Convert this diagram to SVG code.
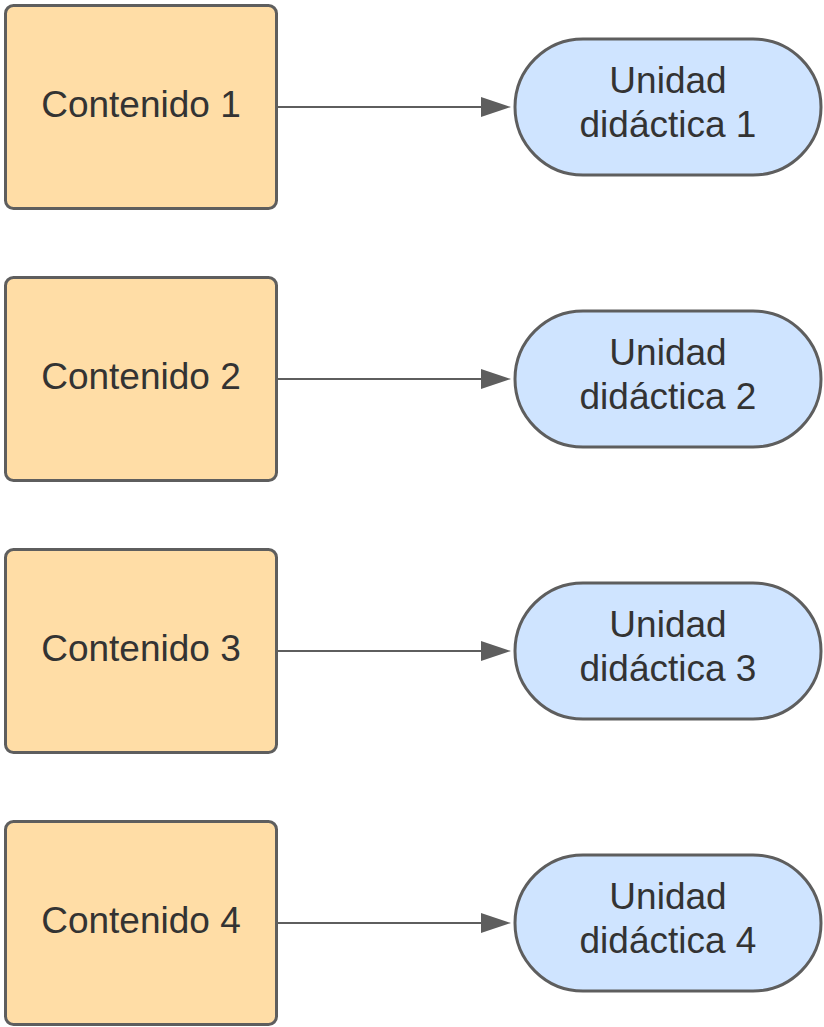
<svg xmlns="http://www.w3.org/2000/svg" width="824" height="1027" viewBox="0 0 824 1027">
<style>
.box{fill:#FFDDA6;stroke:#5E5E5E;stroke-width:3}
.pill{fill:#CFE4FF;stroke:#5E5E5E;stroke-width:3}
.t{font-family:"Liberation Sans",Arial,sans-serif;font-size:37px;fill:#333333;text-anchor:middle}
.c{stroke:#5E5E5E;stroke-width:2;fill:none}
</style>
<defs>
<marker id="ah" markerUnits="userSpaceOnUse" markerWidth="30" markerHeight="20" refX="19" refY="10" orient="auto">
<path d="M0,0 L30,10 L0,20 Z" fill="#5E5E5E"/>
</marker>
</defs>
<rect width="824" height="1027" fill="#FFFFFF"/>
<g id="connectors">
<line class="c" x1="278" y1="107" x2="500" y2="107" marker-end="url(#ah)"/>
<line class="c" x1="278" y1="379" x2="500" y2="379" marker-end="url(#ah)"/>
<line class="c" x1="278" y1="651" x2="500" y2="651" marker-end="url(#ah)"/>
<line class="c" x1="278" y1="923" x2="500" y2="923" marker-end="url(#ah)"/>
</g>
<g id="contenido1">
<rect class="box" x="5.5" y="5.5" width="271" height="203" rx="8"/>
<text class="t" x="141" y="117">Contenido 1</text>
</g>
<g id="contenido2">
<rect class="box" x="5.5" y="277.5" width="271" height="203" rx="8"/>
<text class="t" x="141" y="389">Contenido 2</text>
</g>
<g id="contenido3">
<rect class="box" x="5.5" y="549.5" width="271" height="203" rx="8"/>
<text class="t" x="141" y="661">Contenido 3</text>
</g>
<g id="contenido4">
<rect class="box" x="5.5" y="821.5" width="271" height="203" rx="8"/>
<text class="t" x="141" y="933">Contenido 4</text>
</g>
<g id="unidad1">
<rect class="pill" x="515" y="39" width="306" height="136" rx="68"/>
<text class="t" x="668" y="93">Unidad</text>
<text class="t" x="668" y="137">didáctica 1</text>
</g>
<g id="unidad2">
<rect class="pill" x="515" y="311" width="306" height="136" rx="68"/>
<text class="t" x="668" y="365">Unidad</text>
<text class="t" x="668" y="409">didáctica 2</text>
</g>
<g id="unidad3">
<rect class="pill" x="515" y="583" width="306" height="136" rx="68"/>
<text class="t" x="668" y="637">Unidad</text>
<text class="t" x="668" y="681">didáctica 3</text>
</g>
<g id="unidad4">
<rect class="pill" x="515" y="855" width="306" height="136" rx="68"/>
<text class="t" x="668" y="909">Unidad</text>
<text class="t" x="668" y="953">didáctica 4</text>
</g>
</svg>
